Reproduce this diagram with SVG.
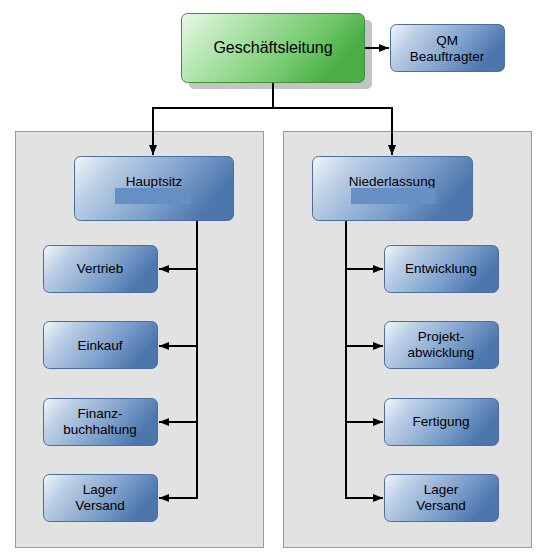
<svg xmlns="http://www.w3.org/2000/svg" width="550" height="554" viewBox="0 0 550 554">
<defs>
<linearGradient id="gb" x1="0" y1="0" x2="1" y2="0.35">
<stop offset="0" stop-color="#f2f6fb"/>
<stop offset="0.25" stop-color="#bccfe5"/>
<stop offset="0.7" stop-color="#7a9dca"/>
<stop offset="1" stop-color="#4c76ac"/>
</linearGradient>
<linearGradient id="gg" x1="0" y1="0" x2="1" y2="0.35">
<stop offset="0" stop-color="#e9f8e7"/>
<stop offset="0.3" stop-color="#b6e6b1"/>
<stop offset="0.75" stop-color="#72c96c"/>
<stop offset="1" stop-color="#4aad46"/>
</linearGradient>
<marker id="ah" viewBox="0 0 10 8" refX="10" refY="4" markerWidth="10" markerHeight="8" markerUnits="userSpaceOnUse" orient="auto">
<path d="M0,0 L10,4 L0,8 Z" fill="#000"/>
</marker>
</defs>
<style>
.panel{fill:#e2e2e2;stroke:#9a9a9a;stroke-width:1}
.bn{fill:url(#gb);stroke:#4a6e9e;stroke-width:1}
.gn{fill:url(#gg);stroke:#3f8f3c;stroke-width:1}
.sh{fill:#c4c4c4}
.t{font-family:"Liberation Sans",Arial,sans-serif;font-size:13.5px;fill:#000;text-anchor:middle}
.tb{font-family:"Liberation Sans",Arial,sans-serif;font-size:16px;fill:#000;text-anchor:middle}
.ph{fill:#6690c4}
.c{fill:none;stroke:#000;stroke-width:2}
</style>
<rect width="550" height="554" fill="#ffffff"/>
<rect class="panel" x="15.5" y="131.5" width="248" height="416"/>
<rect class="panel" x="283.5" y="131.5" width="248" height="416"/>

<g id="geschaeftsleitung">
<rect class="sh" x="189" y="20" width="183" height="69" rx="5"/>
<rect class="gn" x="181.5" y="13.5" width="183" height="69" rx="6"/>
<text class="tb" x="273" y="53">Geschäftsleitung</text>
</g>
<g id="qm">
<rect class="bn" x="390.5" y="24.5" width="114" height="47" rx="6"/>
<text class="t" x="447" y="45">QM</text>
<text class="t" x="447" y="61">Beauftragter</text>
</g>
<g id="hauptsitz">
<rect class="bn" x="74.5" y="156.5" width="159" height="64" rx="6"/>
<text class="t" x="154" y="186">Hauptsitz</text>
<rect class="ph" x="115" y="188" width="76" height="16"/>
</g>
<g id="niederlassung">
<rect class="bn" x="312.5" y="156.5" width="160" height="64" rx="6"/>
<text class="t" x="392" y="186">Niederlassung</text>
<rect class="ph" x="351" y="188" width="85" height="16"/>
</g>
<g id="vertrieb">
<rect class="bn" x="43.5" y="245.5" width="114" height="47" rx="6"/>
<text class="t" x="100" y="273">Vertrieb</text>
</g>
<g id="einkauf">
<rect class="bn" x="43.5" y="321.5" width="114" height="47" rx="6"/>
<text class="t" x="100" y="350">Einkauf</text>
</g>
<g id="finanzbuchhaltung">
<rect class="bn" x="43.5" y="398.5" width="114" height="47" rx="6"/>
<text class="t" x="100" y="418">Finanz-</text>
<text class="t" x="100" y="434">buchhaltung</text>
</g>
<g id="lager-l">
<rect class="bn" x="43.5" y="474.5" width="114" height="47" rx="6"/>
<text class="t" x="100" y="494">Lager</text>
<text class="t" x="100" y="510">Versand</text>
</g>
<g id="entwicklung">
<rect class="bn" x="384.5" y="245.5" width="114" height="47" rx="6"/>
<text class="t" x="441" y="273">Entwicklung</text>
</g>
<g id="projektabwicklung">
<rect class="bn" x="384.5" y="321.5" width="114" height="47" rx="6"/>
<text class="t" x="441" y="341">Projekt-</text>
<text class="t" x="441" y="357">abwicklung</text>
</g>
<g id="fertigung">
<rect class="bn" x="384.5" y="398.5" width="114" height="47" rx="6"/>
<text class="t" x="441" y="426">Fertigung</text>
</g>
<g id="lager-r">
<rect class="bn" x="384.5" y="474.5" width="114" height="47" rx="6"/>
<text class="t" x="441" y="494">Lager</text>
<text class="t" x="441" y="510">Versand</text>
</g>

<g id="connectors">
<path class="c" d="M365,48 L389,48" marker-end="url(#ah)"/>
<path class="c" d="M273,83 L273,108 L153,108 L153,155" marker-end="url(#ah)"/>
<path class="c" d="M273,108 L392,108 L392,155" marker-end="url(#ah)"/>
<path class="c" d="M197,221 L197,498 L159,498" marker-end="url(#ah)"/>
<path class="c" d="M197,269 L159,269" marker-end="url(#ah)"/>
<path class="c" d="M197,346 L159,346" marker-end="url(#ah)"/>
<path class="c" d="M197,422 L159,422" marker-end="url(#ah)"/>
<path class="c" d="M346,221 L346,498 L383,498" marker-end="url(#ah)"/>
<path class="c" d="M346,269 L383,269" marker-end="url(#ah)"/>
<path class="c" d="M346,346 L383,346" marker-end="url(#ah)"/>
<path class="c" d="M346,422 L383,422" marker-end="url(#ah)"/>
</g>
</svg>
